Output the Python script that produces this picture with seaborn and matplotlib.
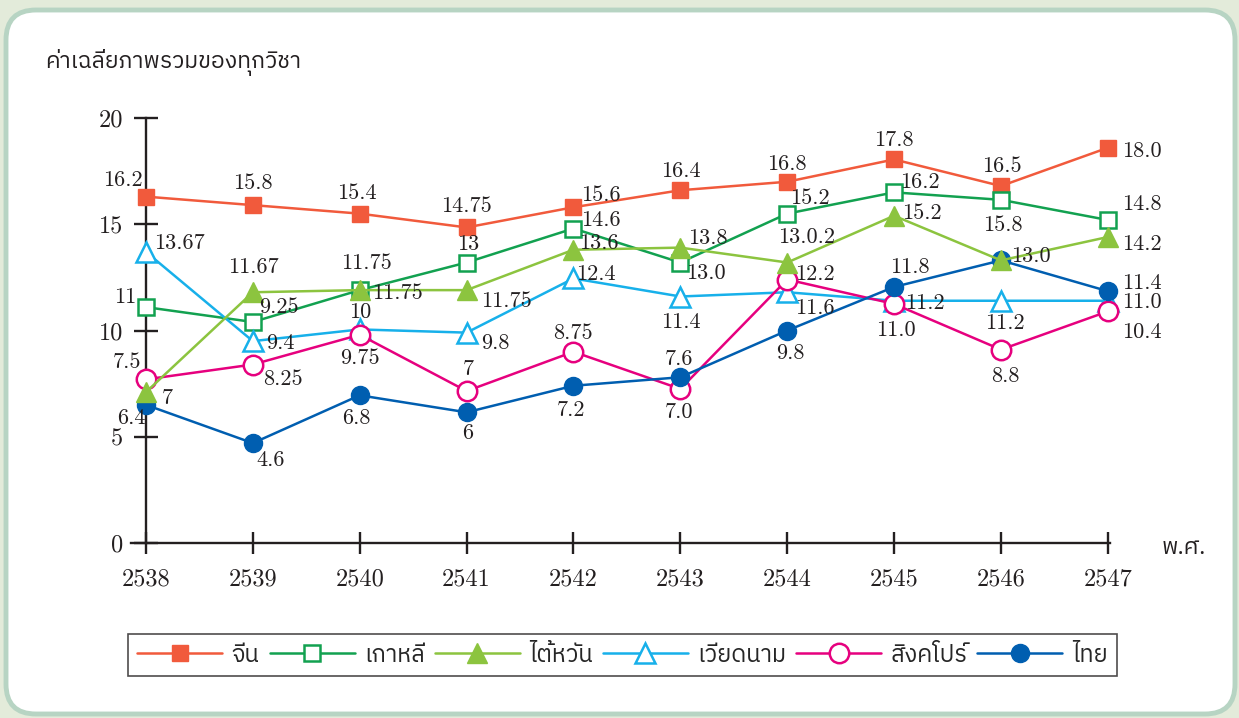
import numpy as np
import pandas as pd
import matplotlib
matplotlib.use("Agg")
import matplotlib.pyplot as plt
import seaborn as sns
from matplotlib import font_manager, ft2font
from matplotlib.patches import FancyBboxPatch
from matplotlib.transforms import IdentityTransform

# -------------------- data --------------------
years = [2538, 2539, 2540, 2541, 2542, 2543, 2544, 2545, 2546, 2547]
countries = ["จีน", "เกาหลี", "ไต้หวัน", "เวียดนาม", "สิงคโปร์", "ไทย"]

china = [16.3, 15.9, 15.5, 14.85, 15.8, 16.6, 17.0, 18.05, 16.8, 18.6]
korea = [11.1, 10.4, 11.9, 13.2, 14.8, 13.2, 15.5, 16.5, 16.15, 15.2]
taiwan = [7.1, 11.8, 11.9, 11.9, 13.8, 13.9, 13.2, 15.4, 13.3, 14.4]
vietnam = [13.7, 9.5, 10.05, 9.9, 12.45, 11.6, 11.8, 11.4, 11.4, 11.4]
singapore = [7.7, 8.4, 9.8, 7.15, 9.0, 7.25, 12.4, 11.25, 9.1, 10.9]
thai = [6.5, 4.7, 6.95, 6.15, 7.4, 7.8, 10.0, 12.05, 13.3, 11.85]

# value labels as printed on the chart
china_lbl = ["16.2", "15.8", "15.4", "14.75", "15.6", "16.4", "16.8", "17.8", "16.5", "18.0"]
korea_lbl = ["11", "9.25", "11.75", "13", "14.6", "13.0", "15.2", "16.2", "15.8", "14.8"]
taiwan_lbl = ["7", "11.67", "11.75", "11.75", "13.6", "13.8", "13.0.2", "15.2", "13.0", "14.2"]
vietnam_lbl = ["13.67", "9.4", "10", "9.8", "12.4", "11.4", "11.6", "11.2", "11.2", "11.0"]
singapore_lbl = ["7.5", "8.25", "9.75", "7", "8.75", "7.0", "12.2", "11.0", "8.8", "10.4"]
thai_lbl = ["6.4", "4.6", "6.8", "6", "7.2", "7.6", "9.8", "11.8", "", "11.4"]

y_ticks = [0, 5, 10, 15, 20]
y_title = "ค่าเฉลี่ยภาพรวมของทุกวิชา"
x_title = "พ.ศ."

# label offsets in pixels (dx, dy, ha)
china_off = [(-23, 16, "center"), (0, 22, "center"), (-3, 20, "center"), (0, 21, "center"),
             (27, 12, "center"), (0, 19, "center"), (0, 18, "center"), (0, 19, "center"),
             (1, 20, "center"), (14, -3, "left")]
korea_off = [(-21, 10, "center"), (26, 15, "center"), (7, 27, "center"), (2, 18, "center"),
             (27, 8, "center"), (25, -11, "center"), (23, 15, "center"), (26, 10, "center"),
             (2, -25, "center"), (14, 16, "left")]
taiwan_off = [(21, -6, "center"), (1, 25, "center"), (12, -3, "left"), (14, -11, "left"),
              (25, 7, "center"), (8, 9, "left"), (19, 25, "center"), (28, 3, "center"),
              (30, 4, "center"), (14, -7, "left")]
vietnam_off = [(8, 9, "left"), (28, -2, "center"), (0, 17, "center"), (29, -11, "center"),
               (22, 4, "center"), (0, -26, "center"), (28, -16, "center"), (31, -2, "center"),
               (4, -22, "center"), (14, -1, "left")]
singapore_off = [(-19, 17, "center"), (30, -15, "center"), (0, -23, "center"), (2, 22, "center"),
                 (-1, 19, "center"), (-1, -23, "center"), (28, 5, "center"), (2, -26, "center"),
                 (4, -27, "center"), (14, -21, "left")]
thai_off = [(-15, -13, "center"), (18, -17, "center"), (-3, -23, "center"), (1, -21, "center"),
            (-2, -24, "center"), (-1, 18, "center"), (3, -23, "center"), (16, 20, "center"),
            (0, 0, "center"), (14, 8, "left")]

# -------------------- fonts --------------------
sns.set_style("white")

thai_font = None
cands = []
for f in font_manager.fontManager.ttflist:
    try:
        if 0x0E01 in ft2font.FT2Font(f.fname).get_charmap():
            cands.append(f.name)
    except Exception:
        pass
cands.sort(key=lambda n: (0 if "Thai" in n else 1, n))
if cands:
    thai_font = cands[0]

fam = ["cmr10"] + ([thai_font] if thai_font else []) + ["DejaVu Sans"]
thai_fam = ([thai_font] if thai_font else []) + ["DejaVu Sans"]
plt.rcParams["font.family"] = fam
plt.rcParams["axes.formatter.use_mathtext"] = True

# -------------------- figure --------------------
W, H = 1239, 718
fig = plt.figure(figsize=(W / 100, H / 100), dpi=100, facecolor="#e3ebda")

panel = FancyBboxPatch((6, 4), 1229, 704, boxstyle="round,pad=0,rounding_size=30",
                       transform=IdentityTransform(), facecolor="white",
                       edgecolor="#b7d4c3", linewidth=3.5, zorder=-10)
fig.patches.append(panel)

x0, x1 = 2537.86, 2547.02
ax_l, ax_r, ax_b, ax_t = 131, 1110, 543, 118
ax = fig.add_axes([ax_l / W, 1 - ax_b / H, (ax_r - ax_l) / W, (ax_b - ax_t) / H])
ax.set_zorder(5)
ax.patch.set_alpha(0)

series = [
    (china, china_lbl, china_off, "#f15a3c", "s", "#f15a3c", 12, 1.0),
    (korea, korea_lbl, korea_off, "#12a150", "s", "white", 11, 1.8),
    (vietnam, vietnam_lbl, vietnam_off, "#17b0ea", "^", "white", 14, 1.8),
    (singapore, singapore_lbl, singapore_off, "#e6007e", "o", "white", 14, 1.8),
    (thai, thai_lbl, thai_off, "#005eb0", "o", "#005eb0", 13, 1.0),
    (taiwan, taiwan_lbl, taiwan_off, "#8cc43f", "^", "#8cc43f", 14, 1.0),
]
names = {id(china): countries[0], id(korea): countries[1], id(taiwan): countries[2],
         id(vietnam): countries[3], id(singapore): countries[4], id(thai): countries[5]}

handles = {}
for z, (vals, lbls, offs, col, mk, mfc, ms, mew) in enumerate(series):
    df = pd.DataFrame({"year": years, "value": vals})
    sns.lineplot(data=df, x="year", y="value", ax=ax, color=col, marker=mk,
                 markerfacecolor=mfc, markeredgecolor=col, markersize=ms,
                 markeredgewidth=mew, linewidth=1.8, zorder=3 + z, clip_on=False)
    ln = ax.get_lines()[-1]
    handles[names[id(vals)]] = ln
    for xv, yv, t, (dx, dy, ha) in zip(years, vals, lbls, offs):
        if t:
            ax.annotate(t, (xv, yv), xytext=(dx, dy), textcoords="offset pixels",
                        ha=ha, va="center", fontsize=16, color="#231f20",
                        zorder=20, annotation_clip=False)

ax.set_xlim(x0, x1)
ax.set_ylim(0, 20)
ax.set_xticks(years)
ax.set_xticklabels([str(y) for y in years])
ax.set_yticks(y_ticks)
ax.set_yticklabels([str(v) for v in y_ticks])
ax.set_xlabel("")
ax.set_ylabel("")

for s in ["top", "right"]:
    ax.spines[s].set_visible(False)
ax.spines["left"].set_position(("data", 2538))
for s in ["left", "bottom"]:
    ax.spines[s].set_color("#231f20")
    ax.spines[s].set_linewidth(1.7)
    ax.spines[s].set_zorder(2)
ax.tick_params(axis="both", direction="inout", color="#231f20", width=1.7,
               labelsize=17.5, labelcolor="#231f20", left=True, bottom=True)
ax.tick_params(axis="y", length=17, pad=8)
ax.tick_params(axis="x", length=16, pad=10)
ax.grid(False)

fig.text(45 / W, 1 - 62 / H, y_title, ha="left", va="center", fontsize=16.5,
         color="#231f20", family=thai_fam)
fig.text(1162 / W, 1 - 548 / H, x_title, ha="left", va="center", fontsize=16.5,
         color="#231f20", family=thai_fam)

leg = fig.legend([handles[c] for c in countries], countries, ncol=6, mode="expand",
                 bbox_to_anchor=(128 / W, 1 - 693 / H, 989 / W, 76 / H), loc="center",
                 frameon=True, fancybox=False, handlelength=3.6, handletextpad=0.4,
                 borderaxespad=0, prop={"family": thai_fam, "size": 17})
leg.get_frame().set_edgecolor("#231f20")
leg.get_frame().set_linewidth(1.2)

fig.savefig("out.png", dpi=100, facecolor=fig.get_facecolor())
